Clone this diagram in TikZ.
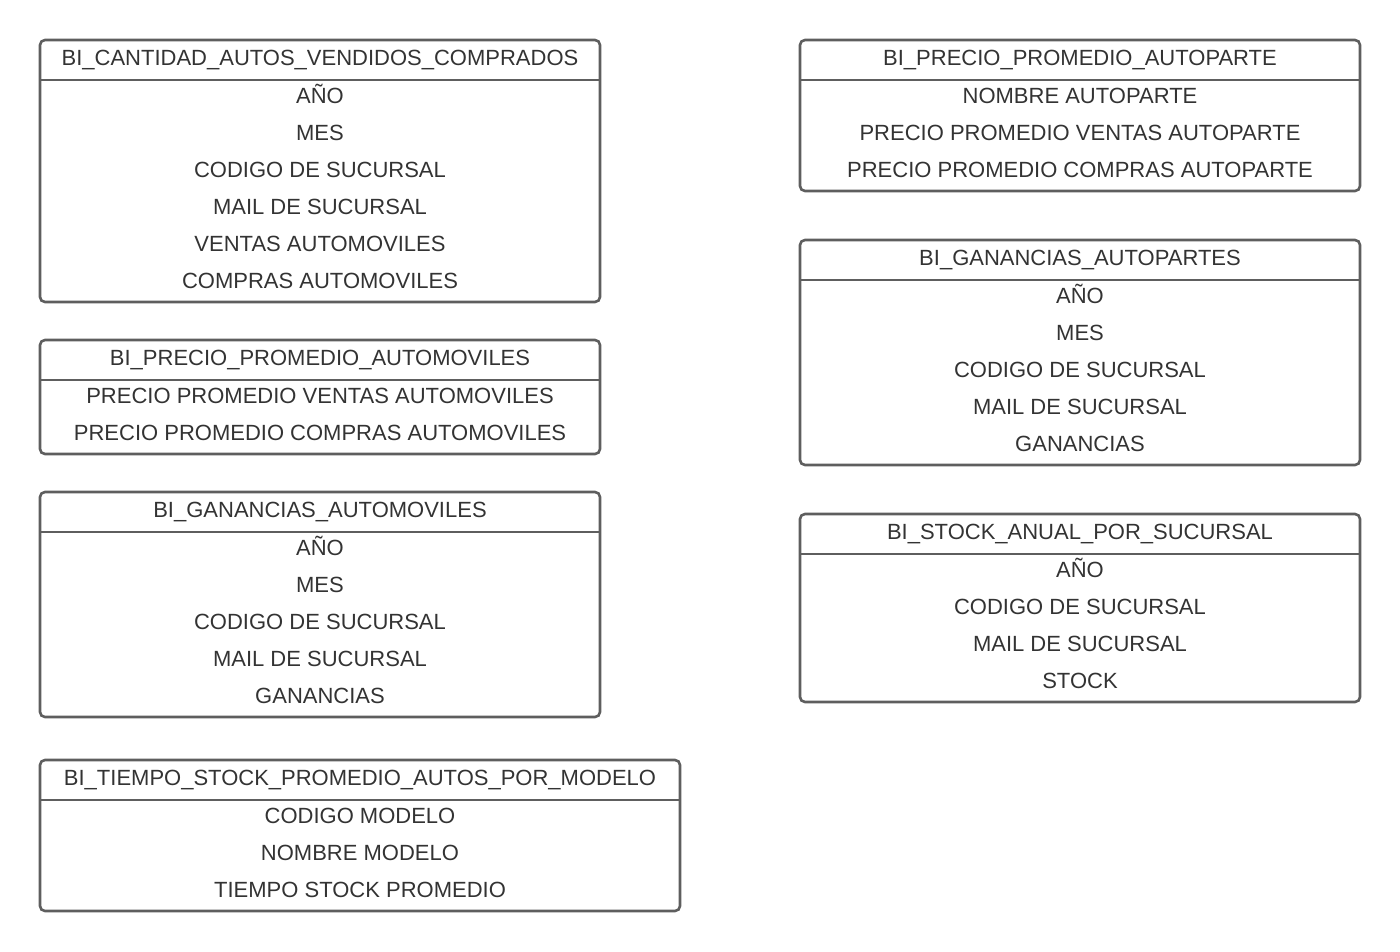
\documentclass[tikz,border=0pt]{standalone}
\usepackage{fontspec}
\setmainfont{Liberation Sans}
\definecolor{framec}{HTML}{5E5E5E}
\definecolor{textc}{HTML}{333333}
\tikzset{
  tabframe/.style={draw=framec, line width=2.6pt, rounded corners=5pt},
  tabline/.style={draw=framec, line width=2.6pt},
  tabtext/.style={anchor=base, inner sep=0pt, text=textc, font=\fontsize{22}{26}\selectfont},
}
\newcommand{\dbtable}[6]{%
  \node[tabtext] (#1-title) at ({(#2+#3)/2}, #4+25) {#5};
  \foreach \r [count=\i] in {#6} {%
    \node[tabtext] (#1-row\i) at ({(#2+#3)/2}, {#4+63+37*(\i-1)}) {\r};
    \xdef\nrows{\i}%
  }
  \draw[tabframe] (#2,#4) rectangle (#3, {#4+55+37*(\nrows-1)+22});
  \draw[tabline] (#2,#4+40) -- (#3,#4+40);
}
\begin{document}
\begin{tikzpicture}[x=1pt,y=-1pt]
\useasboundingbox (0,0) rectangle (1400,951);
\dbtable{t1}{40}{600}{40}{BI\_CANTIDAD\_AUTOS\_VENDIDOS\_COMPRADOS}{AÑO,MES,CODIGO DE SUCURSAL,MAIL DE SUCURSAL,VENTAS AUTOMOVILES,COMPRAS AUTOMOVILES}
\dbtable{t2}{40}{600}{340}{BI\_PRECIO\_PROMEDIO\_AUTOMOVILES}{PRECIO PROMEDIO VENTAS AUTOMOVILES,PRECIO PROMEDIO COMPRAS AUTOMOVILES}
\dbtable{t3}{40}{600}{492}{BI\_GANANCIAS\_AUTOMOVILES}{AÑO,MES,CODIGO DE SUCURSAL,MAIL DE SUCURSAL,GANANCIAS}
\dbtable{t4}{40}{680}{760}{BI\_TIEMPO\_STOCK\_PROMEDIO\_AUTOS\_POR\_MODELO}{CODIGO MODELO,NOMBRE MODELO,TIEMPO STOCK PROMEDIO}
\dbtable{t5}{800}{1360}{40}{BI\_PRECIO\_PROMEDIO\_AUTOPARTE}{NOMBRE AUTOPARTE,PRECIO PROMEDIO VENTAS AUTOPARTE,PRECIO PROMEDIO COMPRAS AUTOPARTE}
\dbtable{t6}{800}{1360}{240}{BI\_GANANCIAS\_AUTOPARTES}{AÑO,MES,CODIGO DE SUCURSAL,MAIL DE SUCURSAL,GANANCIAS}
\dbtable{t7}{800}{1360}{514}{BI\_STOCK\_ANUAL\_POR\_SUCURSAL}{AÑO,CODIGO DE SUCURSAL,MAIL DE SUCURSAL,STOCK}
\end{tikzpicture}
\end{document}
